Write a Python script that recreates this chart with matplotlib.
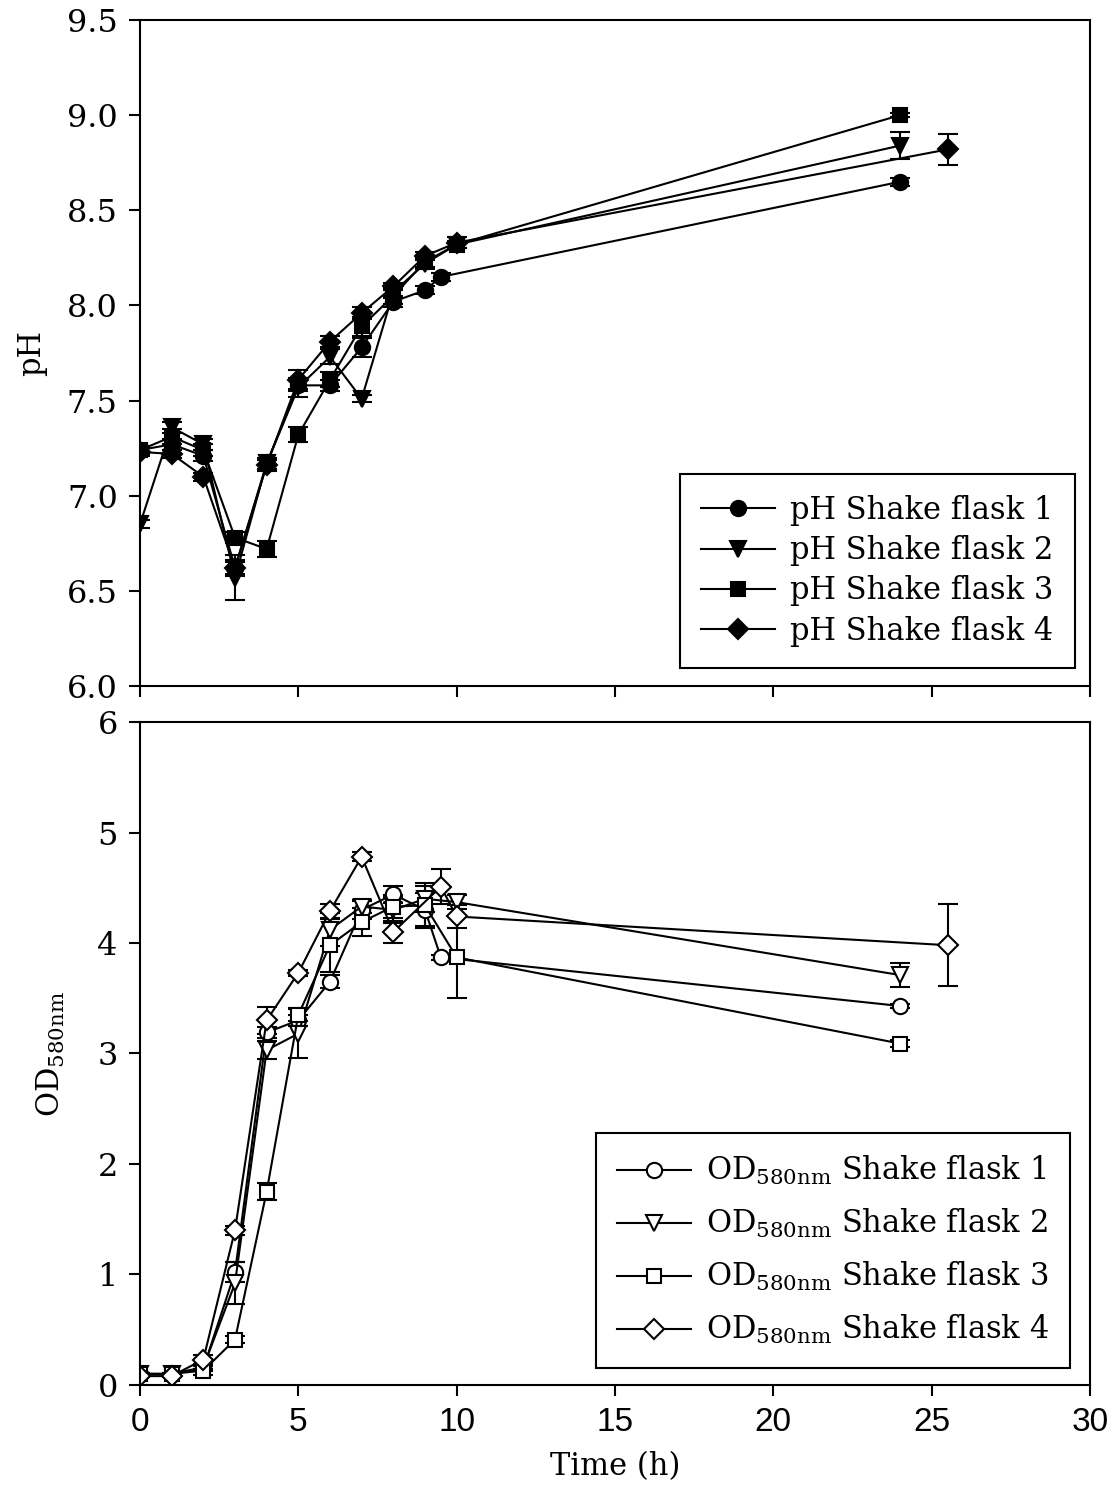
import matplotlib.pyplot as plt
from matplotlib.lines import Line2D

plt.rcParams['font.family'] = 'DejaVu Serif'
plt.rcParams['mathtext.fontset'] = 'dejavuserif'

# sampling times (h)
t_std = [0, 1, 2, 3, 4, 5, 6, 7, 8, 9, 10, 24]
t_f1 = [0, 1, 2, 3, 4, 5, 6, 7, 8, 9, 9.5, 24]
t_f4_ph = [0, 1, 2, 3, 4, 5, 6, 7, 8, 9, 10, 25.5]
t_f4_od = [0, 1, 2, 3, 4, 5, 6, 7, 8, 9.5, 10, 25.5]

# pH, mean and std
ph1 = [7.24, 7.27, 7.21, 6.62, 7.17, 7.58, 7.58, 7.78, 8.02, 8.08, 8.15, 8.65]
ph1_err = [0.02, 0.03, 0.03, 0.03, 0.03, 0.03, 0.03, 0.05, 0.03, 0.02, 0.02, 0.02]
ph2 = [6.85, 7.36, 7.27, 6.57, 7.17, 7.57, 7.73, 7.51, 8.07, 8.22, 8.32, 8.84]
ph2_err = [0.02, 0.03, 0.03, 0.12, 0.03, 0.05, 0.04, 0.02, 0.03, 0.03, 0.02, 0.07]
ph3 = [7.24, 7.31, 7.24, 6.78, 6.72, 7.32, 7.61, 7.89, 8.05, 8.23, 8.32, 9.00]
ph3_err = [0.02, 0.04, 0.03, 0.03, 0.04, 0.04, 0.04, 0.05, 0.04, 0.03, 0.02, 0.01]
ph4 = [7.23, 7.22, 7.10, 6.62, 7.16, 7.61, 7.81, 7.96, 8.10, 8.26, 8.33, 8.82]
ph4_err = [0.02, 0.02, 0.02, 0.04, 0.03, 0.05, 0.03, 0.03, 0.02, 0.02, 0.03, 0.08]

# OD580, mean and std
od1 = [0.10, 0.10, 0.15, 1.02, 3.19, 3.30, 3.65, 4.30, 4.44, 4.30, 3.87, 3.43]
od1_err = [0.01, 0.01, 0.02, 0.09, 0.05, 0.05, 0.06, 0.08, 0.08, 0.15, 0.02, 0.02]
od2 = [0.10, 0.10, 0.16, 0.92, 3.03, 3.18, 4.12, 4.33, 4.30, 4.40, 4.37, 3.71]
od2_err = [0.01, 0.01, 0.02, 0.19, 0.08, 0.22, 0.15, 0.06, 0.12, 0.12, 0.06, 0.11]
od3 = [0.10, 0.10, 0.13, 0.41, 1.75, 3.35, 3.98, 4.19, 4.33, 4.34, 3.87, 3.09]
od3_err = [0.01, 0.01, 0.04, 0.03, 0.08, 0.06, 0.24, 0.13, 0.10, 0.20, 0.37, 0.03]
od4 = [0.08, 0.08, 0.23, 1.40, 3.30, 3.73, 4.29, 4.78, 4.10, 4.51, 4.24, 3.98]
od4_err = [0.01, 0.01, 0.04, 0.04, 0.12, 0.03, 0.06, 0.04, 0.10, 0.16, 0.10, 0.37]

ph_series = [
    (t_f1, ph1, ph1_err, 'o', 11, 'pH Shake flask 1'),
    (t_std, ph2, ph2_err, 'v', 11, 'pH Shake flask 2'),
    (t_std, ph3, ph3_err, 's', 10, 'pH Shake flask 3'),
    (t_f4_ph, ph4, ph4_err, 'D', 10, 'pH Shake flask 4'),
]
od_lab = r'OD$_{\mathrm{580nm}}$ Shake flask '
od_series = [
    (t_f1, od1, od1_err, 'o', 11, od_lab + '1'),
    (t_std, od2, od2_err, 'v', 11, od_lab + '2'),
    (t_std, od3, od3_err, 's', 10, od_lab + '3'),
    (t_f4_od, od4, od4_err, 'D', 10, od_lab + '4'),
]

fig = plt.figure(figsize=(11.19, 15.08), dpi=100)
ax1 = fig.add_axes([0.1251, 0.5451, 0.8490, 0.4416])
ax2 = fig.add_axes([0.1251, 0.0816, 0.8490, 0.4396])


def draw(ax, series, face):
    handles = []
    for t, y, e, m, ms, lab in series:
        ax.errorbar(t, y, yerr=e, marker=m, ms=ms, color='black',
                    mfc=face, mec='black', mew=1.5, lw=1.5,
                    elinewidth=1.5, capsize=7, capthick=1.5)
        # legend entry: line + marker only, no error bar
        handles.append(Line2D([], [], color='black', lw=1.5, marker=m,
                              ms=ms, mfc=face, mec='black', mew=1.5,
                              label=lab))
    return handles


h1 = draw(ax1, ph_series, 'black')
h2 = draw(ax2, od_series, 'white')

for ax in (ax1, ax2):
    ax.set_xlim(0, 30)
    ax.set_xticks(range(0, 31, 5))
    for s in ax.spines.values():
        s.set_linewidth(1.5)
    ax.tick_params(direction='out', length=8, width=1.5, labelsize=23,
                   pad=8)

ax1.set_ylim(6.0, 9.5)
ax1.set_yticks([6.0, 6.5, 7.0, 7.5, 8.0, 8.5, 9.0, 9.5])
ax1.set_yticklabels(['%.1f' % v for v in ax1.get_yticks()])
ax1.tick_params(axis='x', labelbottom=False)
ax1.set_ylabel('pH', fontsize=22, labelpad=14)

ax2.set_ylim(0, 6)
ax2.set_yticks(range(0, 7))
ax2.tick_params(axis='x', labelsize=24)
for lbl in ax2.get_xticklabels():
    lbl.set_family('Liberation Sans')
ax2.set_ylabel(r'OD$_{\mathrm{580nm}}$', fontsize=22, labelpad=22)
ax2.set_xlabel('Time (h)', fontsize=22, labelpad=9)

for ax, hs, anchor, sp in ((ax1, h1, (0.984, 0.027), 0.3),
                           (ax2, h2, (0.979, 0.026), 0.65)):
    leg = ax.legend(handles=hs, loc='lower right', bbox_to_anchor=anchor,
                    borderaxespad=0, fontsize=22, fancybox=False,
                    edgecolor='black', framealpha=1, handlelength=2.4,
                    labelspacing=sp, borderpad=0.7, handletextpad=0.5)
    leg.get_frame().set_linewidth(1.5)

fig.savefig('out.png', dpi=100)
